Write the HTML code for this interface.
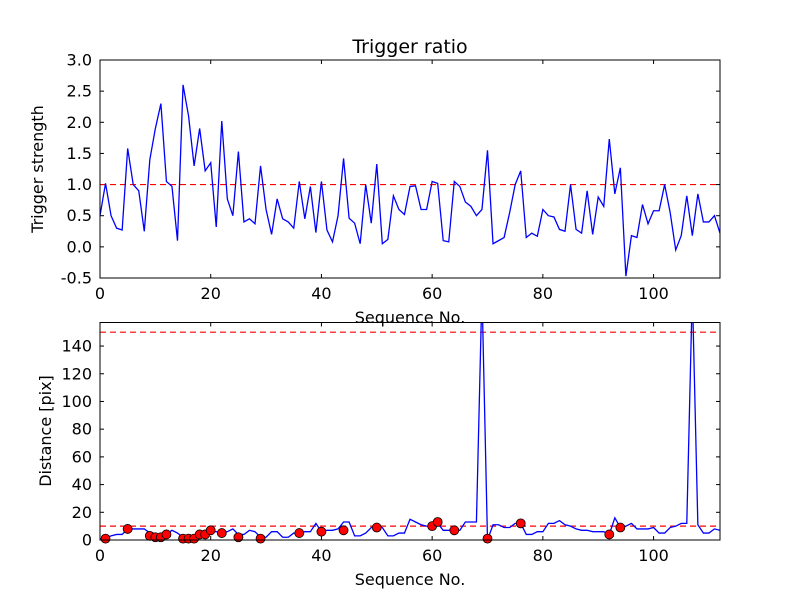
<!DOCTYPE html>
<html><head><meta charset="utf-8"><style>
html,body{margin:0;padding:0;background:#fff;}
svg{display:block;font-family:"DejaVu Sans","Liberation Sans",sans-serif;}
</style></head><body>
<svg id="chart" width="800" height="600" viewBox="0 0 800 600" xmlns="http://www.w3.org/2000/svg">
<rect width="800" height="600" fill="#fff"/>
</svg>
<script>
const topValues=[0.5,1.02,0.5,0.3,0.27,1.58,1.0,0.9,0.25,1.4,1.9,2.3,1.05,0.97,0.1,2.6,2.1,1.3,1.9,1.22,1.35,0.32,2.02,0.77,0.5,1.53,0.4,0.45,0.37,1.3,0.6,0.2,0.77,0.45,0.4,0.3,1.05,0.45,0.97,0.23,1.05,0.27,0.08,0.5,1.42,0.46,0.38,0.05,1.0,0.38,1.33,0.05,0.12,0.82,0.6,0.52,0.97,0.98,0.6,0.6,1.05,1.02,0.1,0.08,1.05,0.97,0.72,0.65,0.5,0.6,1.55,0.05,0.1,0.15,0.55,1.0,1.22,0.15,0.22,0.17,0.6,0.5,0.48,0.28,0.25,1.0,0.28,0.22,0.9,0.2,0.8,0.65,1.73,0.85,1.27,-0.47,0.18,0.15,0.68,0.37,0.58,0.58,1.0,0.55,-0.05,0.18,0.82,0.18,0.85,0.4,0.4,0.5,0.22];
const bottomValues=[1,1,3,4,4,8,8,8,8,5,4,3,4,7,5,2,1,1,2,3,6,6,5,6,8,4,4,7,6,2,2,6,6,2,2,5,5,6,6,12,6,7,7,8,13,13,3,3,5,9,10,9,3,3,5,5,15,13,11,10,10,12,7,7,7,7,13,13,13,180,0,11,11,9,9,12,12,4,4,6,6,12,12,14,11,10,8,7,7,6,6,6,4,16,9,10,12,8,8,8,9,5,5,9,10,12,12,180,11,5,5,8,7];
const markerX=[1,5,9,10,11,12,15,16,17,18,19,20,22,25,29,36,40,44,50,60,61,64,70,76,92,94];
const markerY=[1,8,3,2,2,4,1,1,1,4,4,7,5,2,1,5,6,7,9,10,13,7,1,12,4,9];
const topYTicks=[-0.5,0.0,0.5,1.0,1.5,2.0,2.5,3.0];
const bottomYTicks=[0,20,40,60,80,100,120,140];
const xTicks=[0,20,40,60,80,100];
const topThresholds=[1.0];
const bottomThresholds=[10,150];

const NS="http://www.w3.org/2000/svg";
const svg=document.getElementById('chart');
function mk(tag,attrs,parent){const e=document.createElementNS(NS,tag);for(const k in attrs)e.setAttribute(k,attrs[k]);(parent||svg).appendChild(e);return e;}
const L=100,R=720;
const xs=v=>L+(v-0)/(112-0)*(R-L);
const topAx={t:60,b:278,min:-0.5,max:3.0};
const botAx={t:322.5,b:540,min:0,max:157};
const ys=(ax,v)=>ax.b-(v-ax.min)/(ax.max-ax.min)*(ax.b-ax.t);

function axes(ax,ticks,fmt,name){
  const g=mk('g',{});
  
  
  const cid='clip-'+name;
  const cp=mk('clipPath',{id:cid},g);mk('rect',{x:L,y:ax.t,width:R-L,height:ax.b-ax.t},cp);
  ticks.forEach(t=>{
    const y=ys(ax,t);
    mk('line',{x1:L,x2:L+4,y1:y,y2:y,stroke:'#000'},g);
    mk('line',{x1:R,x2:R-4,y1:y,y2:y,stroke:'#000'},g);
    const tx=mk('text',{x:L-8,y:y+5.5,'text-anchor':'end','font-size':'16'},g);tx.textContent=fmt(t);
    
    
  });
  xTicks.forEach(t=>{
    const x=xs(t);
    mk('line',{x1:x,x2:x,y1:ax.b,y2:ax.b-4,stroke:'#000'},g);
    mk('line',{x1:x,x2:x,y1:ax.t,y2:ax.t+4,stroke:'#000'},g);
    const tx=mk('text',{x:x,y:ax.b+21,'text-anchor':'middle','font-size':'16'},g);tx.textContent=t;
    
    
  });
  return {g,cid};
}
// top
const A=axes(topAx,topYTicks,v=>v.toFixed(1),'top-axes');
topThresholds.forEach(v=>{const l=mk('line',{x1:L,x2:R,y1:ys(topAx,v),y2:ys(topAx,v),stroke:'#f00','stroke-width':1.2,'stroke-dasharray':'6,4','clip-path':'url(#'+A.cid+')'},A.g);

});
const p1=mk('polyline',{points:topValues.map((v,i)=>xs(i)+','+ys(topAx,v)).join(' '),fill:'none',stroke:'#00f','stroke-width':1.3,'clip-path':'url(#'+A.cid+')'},A.g);


mk('rect',{x:L,y:topAx.t,width:R-L,height:topAx.b-topAx.t,fill:'none',stroke:'#000','stroke-width':1},A.g);
// bottom
const B=axes(botAx,bottomYTicks,v=>String(v),'bottom-axes');
bottomThresholds.forEach(v=>{const l=mk('line',{x1:L,x2:R,y1:ys(botAx,v),y2:ys(botAx,v),stroke:'#f00','stroke-width':1.2,'stroke-dasharray':'6,4','clip-path':'url(#'+B.cid+')'},B.g);

});
const p2=mk('polyline',{points:bottomValues.map((v,i)=>xs(i)+','+ys(botAx,v)).join(' '),fill:'none',stroke:'#00f','stroke-width':1.3,'clip-path':'url(#'+B.cid+')'},B.g);


markerX.forEach((x,i)=>{const c=mk('circle',{cx:xs(x),cy:ys(botAx,markerY[i]),r:4.5,fill:'#f00',stroke:'#000','stroke-width':0.8},B.g);

});
mk('rect',{x:L,y:botAx.t,width:R-L,height:botAx.b-botAx.t,fill:'none',stroke:'#000','stroke-width':1},B.g);
// labels
function label(txt,attrs,name){const t=mk('text',attrs);t.textContent=txt;

}
label('Trigger ratio',{x:410,y:53,'text-anchor':'middle','font-size':'19'},'chart-title');
label('Sequence No.',{x:410,y:323,'text-anchor':'middle','font-size':'16'},'top-x-axis-title');
label('Sequence No.',{x:410,y:585,'text-anchor':'middle','font-size':'16'},'bottom-x-axis-title');
label('Trigger strength',{x:43,y:169,'text-anchor':'middle','font-size':'16',transform:'rotate(-90 43 169)'},'top-y-axis-title');
label('Distance [pix]',{x:51,y:431,'text-anchor':'middle','font-size':'16',transform:'rotate(-90 51 431)'},'bottom-y-axis-title');
</script>
</body></html>
